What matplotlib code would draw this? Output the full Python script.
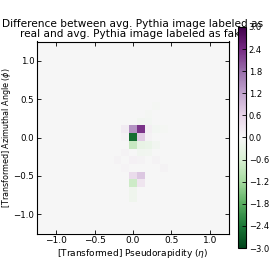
import numpy as np
import matplotlib
matplotlib.use('Agg')
from matplotlib import pyplot as plt

# grid of 25 x 25 bins in (eta, phi), bin width 0.1
n_bins = 25
edge = 1.25

# cells that differ visibly from zero (eta centre, phi centre, difference)
cell_eta = [0.0, 0.1, 0.0, 0.1, 0.0, 0.1, 0.2, -0.1, 0.2, -0.1, 0.2,
            0.0, 0.1, 0.0, 0.1, 0.0, 0.0, 0.1, 0.2, 0.3, 0.0, 0.1,
            0.3, 0.4, -0.1, -0.2, -0.1, 0.1, 0.2, 0.3, 0.4, 0.2, 0.3]
cell_phi = [0.1, 0.1, 0.0, 0.0, -0.1, -0.1, -0.1, 0.1, 0.1, 0.0, 0.0,
            -0.5, -0.5, -0.6, -0.6, -0.7, -0.8, -0.2, -0.2, -0.1, -0.3, -0.3,
            -0.3, -0.4, -0.2, -0.3, -0.4, 0.2, 0.2, 0.1, 0.1, 0.3, 0.4]
cell_val = [1.4, 2.3, -2.5, 0.7, -0.8, -0.3, -0.25, 0.2, 0.12, 0.08, 0.08,
            0.45, 0.75, -0.75, 0.3, -0.15, -0.15, -0.12, -0.1, -0.1, 0.1, 0.08,
            0.08, 0.08, 0.08, 0.08, 0.06, -0.1, -0.08, -0.08, -0.06, -0.06, -0.05]

diff = np.zeros((n_bins, n_bins))
for eta, phi, v in zip(cell_eta, cell_phi, cell_val):
    col = int(round((eta + edge - 0.05) / 0.1))
    row = int(round((edge - 0.05 - phi) / 0.1))
    diff[row, col] = v

plt.rcParams['font.family'] = 'DejaVu Sans'
plt.rcParams['xtick.direction'] = 'in'
plt.rcParams['ytick.direction'] = 'in'
plt.rcParams['xtick.top'] = True
plt.rcParams['ytick.right'] = True

W = 277.0
fig = plt.figure(figsize=(2.77, 2.77), dpi=100)
fig.patch.set_facecolor('white')
ax = fig.add_axes([37 / W, 29 / W, 192 / W, 221 / W])
im = ax.imshow(diff, cmap='PRGn_r', vmin=-3, vmax=3, interpolation='nearest',
               extent=[-edge, edge, -edge, edge], aspect='equal')
ax.set_xticks([-1.0, -0.5, 0.0, 0.5, 1.0])
ax.set_yticks([-1.0, -0.5, 0.0, 0.5, 1.0])
ax.tick_params(axis='x', labelsize=6.5, length=3, width=0.6, pad=2)
ax.tick_params(axis='y', labelsize=6.2, length=3, width=0.6, pad=2)
ax.set_xlabel(r'[Transformed] Pseudorapidity ($\eta$)', fontsize=6.5, labelpad=1)
ax.set_ylabel(r'[Transformed] Azimuthal Angle ($\phi$)', fontsize=5.8)
ax.yaxis.set_label_coords(-0.125, 0.5)
ax.set_title('Difference between avg. Pythia image labeled as\n'
             'real and avg. Pythia image labeled as fake', fontsize=7.6,
             linespacing=1.0, pad=3)
for s in ax.spines.values():
    s.set_linewidth(0.8)

cax = fig.add_axes([238 / W, 29 / W, 8 / W, 221 / W])
cb = fig.colorbar(im, cax=cax, ticks=np.arange(-3.0, 3.01, 0.6))
cb.ax.tick_params(labelsize=6, length=3, width=0.6, direction='in', pad=2)
cb.outline.set_linewidth(0.8)

fig.savefig('out.png', dpi=100, facecolor='white')
